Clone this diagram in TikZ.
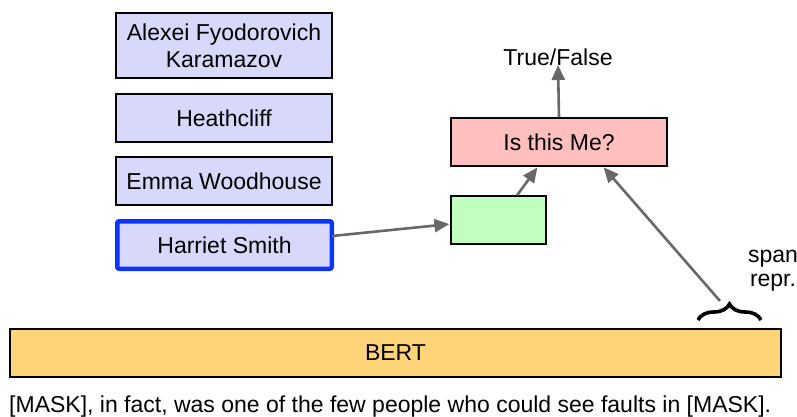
\documentclass[tikz,border=0pt]{standalone}
\usepackage{fontspec}
\setmainfont{Liberation Sans}
\usetikzlibrary{arrows.meta,decorations.pathreplacing,calc}
\definecolor{lav}{HTML}{D8D8FA}
\definecolor{pinkf}{HTML}{FFBFBF}
\definecolor{greenf}{HTML}{C0FFC0}
\definecolor{bertf}{HTML}{FFD479}
\definecolor{arrowg}{HTML}{686868}
\definecolor{hblue}{HTML}{0A35FF}
\tikzset{
  txt/.style={font=\fontsize{23}{27}\selectfont, text=black},
  charbox/.style={txt, draw=black, line width=1.2pt, fill=lav, minimum width=216pt, minimum height=48pt, inner sep=0pt, align=center},
  plainbox/.style={txt, draw=black, line width=1.2pt, minimum height=48pt, inner sep=0pt},
  conn/.style={draw=arrowg, line width=2.6pt, -{Triangle[length=15pt,width=13pt]}, shorten >=1pt},
}
\begin{document}
\begin{tikzpicture}[x=1pt,y=-1pt]
\useasboundingbox (0,0) rectangle (797,417);
\node[charbox, minimum height=65pt] (alexei) at (224,45.5) {Alexei Fyodorovich\\Karamazov};
\node[charbox] (heath) at (224,118) {Heathcliff};
\node[charbox] (emma) at (224,181) {Emma Woodhouse};
\node[charbox, draw=hblue, line width=4.5pt, rounded corners=2pt, minimum width=214.5pt, minimum height=47.5pt] (harriet) at (224.5,245) {Harriet Smith};
\node[plainbox, fill=pinkf, minimum width=216pt] (isme) at (559,142) {Is this Me?};
\node[plainbox, fill=greenf, minimum width=95pt] (green) at (498.5,220) {};
\node[plainbox, fill=bertf, minimum width=771pt] (bert) at (395.5,353) {BERT};
\node[txt] (tf) at (558,57) {True/False};
\node[txt, align=center, font=\fontsize{23}{24}\selectfont] (span) at (773,271) {span\\repr.};
\node[txt, anchor=west, inner sep=0pt] (sent) at (9,407) {[MASK], in fact, was one of the few people who could see faults in [MASK].};
\draw[line width=3.6pt, decorate, decoration={brace, amplitude=16pt, raise=0pt}] (698,320) -- (761,320);
\coordinate (btip) at (720,301);
\draw[conn] (isme.north) -- ($(tf.south)+(0,-5)$);
\draw[conn] ($(green.north)+(18.5,0)$) -- ($(isme.south)+(-21,0)$);
\draw[conn] (btip) -- ($(isme.south)+(44,0)$);
\draw[conn] ($(harriet.east)+(-2,-9)$) -- ($(green.west)+(0,4)$);
\end{tikzpicture}
\end{document}
